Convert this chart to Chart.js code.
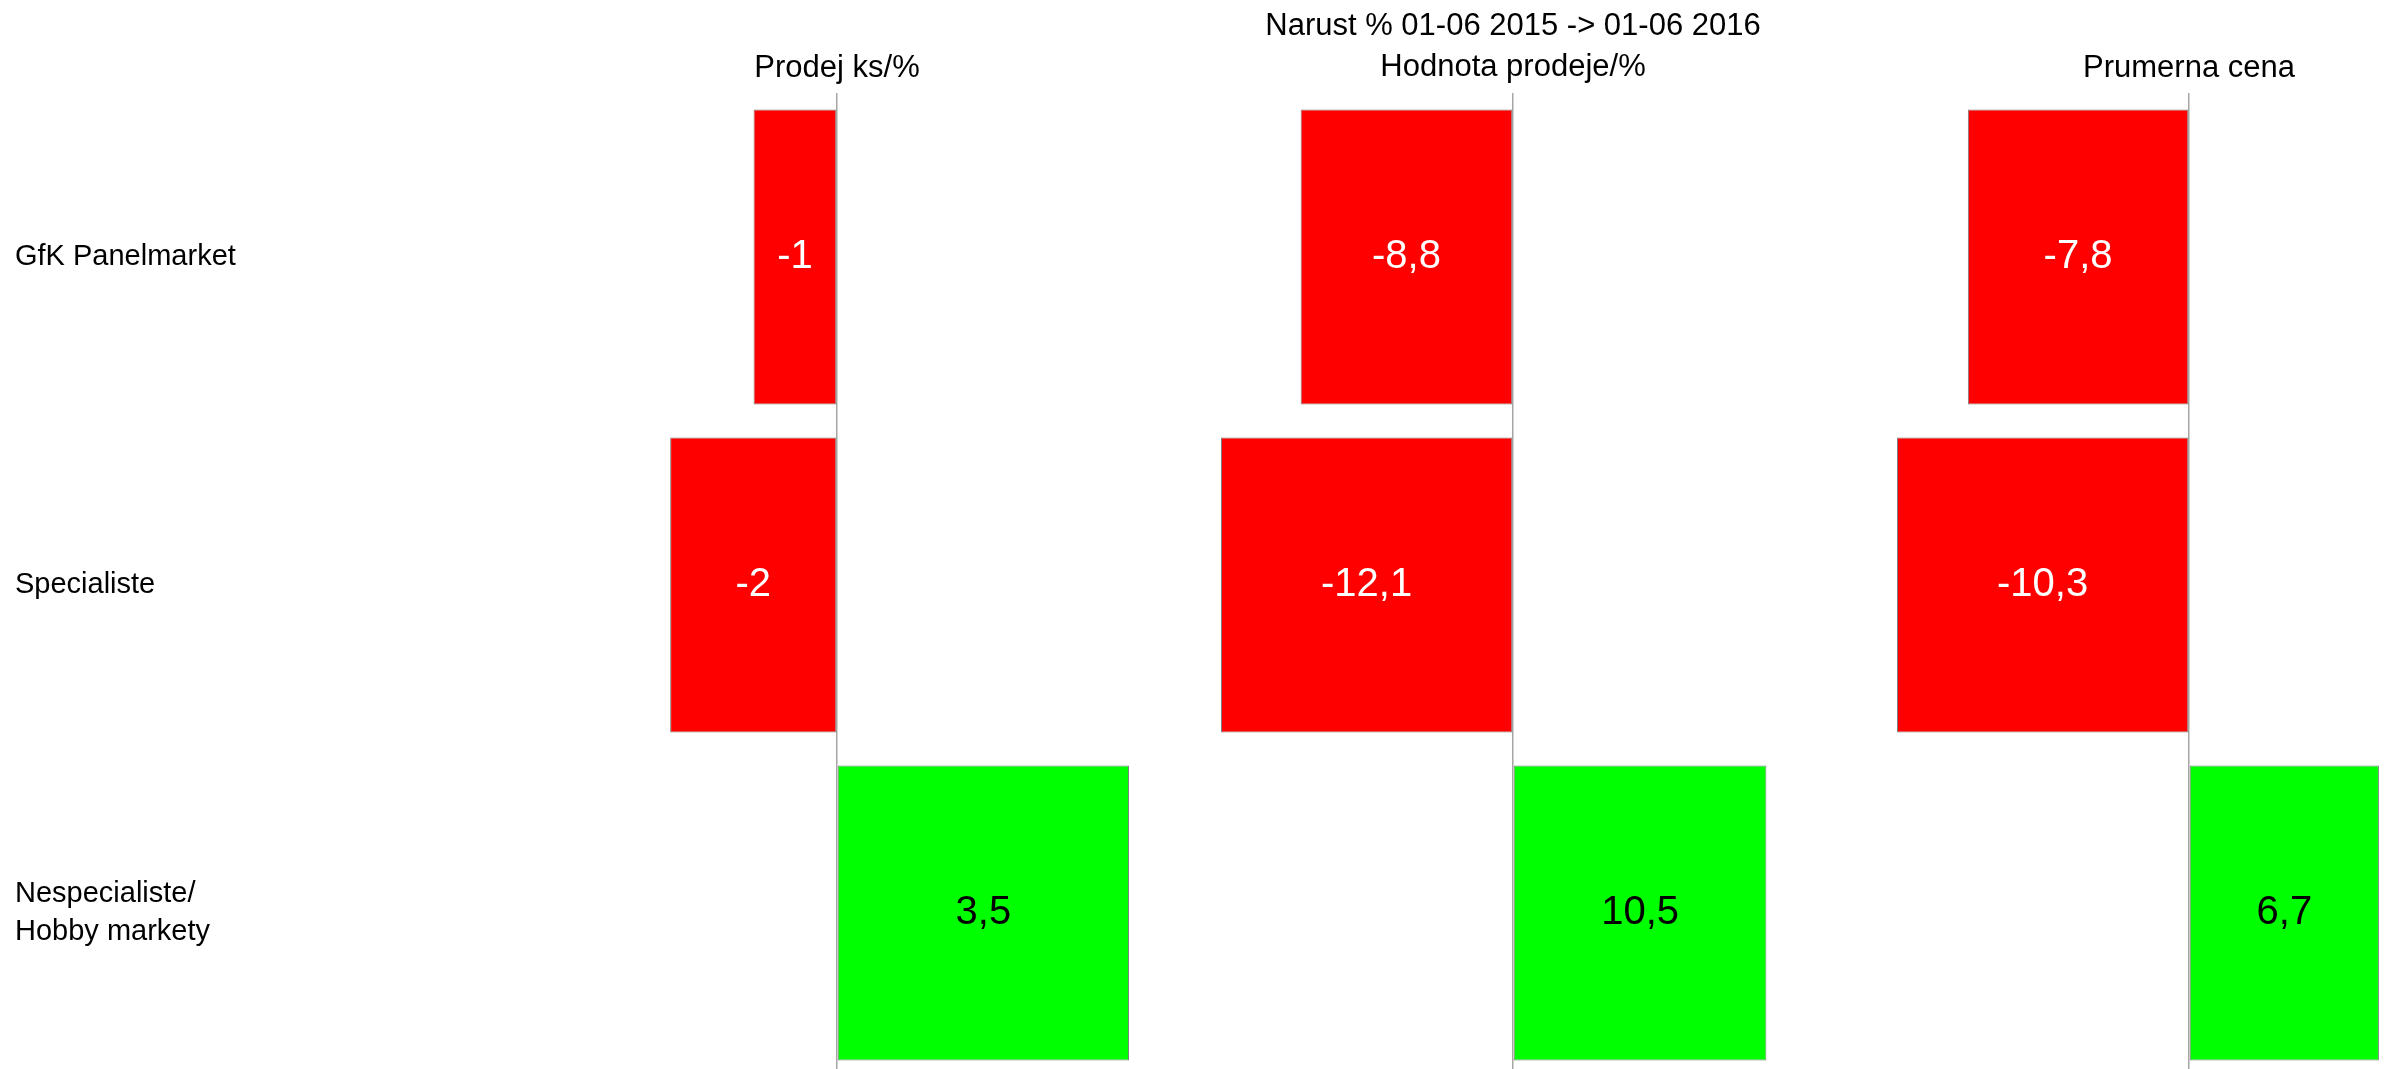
<!DOCTYPE html>
<html lang="cs">
<head>
    <meta charset="UTF-8">
    <title>Narust % 01-06 2015 -> 01-06 2016</title>
    <style>
        html, body { margin: 0; padding: 0; background: #ffffff; overflow: hidden; }
        body { width: 2393px; height: 1069px; position: relative; }
        canvas { position: absolute; top: 0; }
        #chartProdej { left: 0px; }
        #chartHodnota { left: 1221px; }
        #chartCena { left: 1897px; }
    </style>
</head>
<body>
    <canvas id="chartProdej" width="1129" height="1077"></canvas>
    <canvas id="chartHodnota" width="584" height="1077"></canvas>
    <canvas id="chartCena" width="584" height="1077"></canvas>

    <script src="https://cdn.jsdelivr.net/npm/chart.js"></script>
    <script>
        // data
        var categories = ['GfK Panelmarket', 'Specialiste', ['Nespecialiste/', 'Hobby markety']];
        var prodejKs = [-1, -2, 3.5];
        var hodnotaProdeje = [-8.8, -12.1, 10.5];
        var prumernaCena = [-7.8, -10.3, 6.7];
        var mainTitle = 'Narust % 01-06 2015 -> 01-06 2016';
        var panelTitles = ['Prodej ks/%', 'Hodnota prodeje/%', 'Prumerna cena'];

        var FONT = '"Liberation Sans", Arial, sans-serif';

        // values written in the middle of each bar
        var barLabels = {
            id: 'barLabels',
            afterDatasetsDraw: function (chart) {
                var ctx = chart.ctx;
                var values = chart.data.datasets[0].data;
                ctx.save();
                ctx.font = '40px ' + FONT;
                ctx.textAlign = 'center';
                ctx.textBaseline = 'middle';
                chart.getDatasetMeta(0).data.forEach(function (bar, i) {
                    var p = bar.getCenterPoint();
                    ctx.fillStyle = values[i] < 0 ? '#ffffff' : '#000000';
                    ctx.fillText(String(values[i]).replace('.', ','), p.x, p.y);
                });
                ctx.restore();
            }
        };

        function makePanel(id, values, title, subtitle, showCategories) {
            var limit = Math.max.apply(null, values.map(Math.abs));
            var titleFont = { family: FONT, size: 31, weight: 'normal', lineHeight: 1.2 };

            var titleOpts, subtitleOpts;
            if (subtitle) {
                titleOpts = { display: true, text: title, color: '#000', font: titleFont, fullSize: false, padding: { top: 8, bottom: 0 } };
                subtitleOpts = { display: true, text: subtitle, color: '#000', font: titleFont, fullSize: false, padding: { top: 4, bottom: 6.6 } };
            } else {
                titleOpts = { display: true, text: title, color: '#000', font: titleFont, fullSize: false, padding: { top: 50, bottom: 5.8 } };
                subtitleOpts = { display: false };
            }

            return new Chart(document.getElementById(id), {
                type: 'bar',
                data: {
                    labels: categories,
                    datasets: [{
                        data: values,
                        backgroundColor: values.map(function (v) { return v < 0 ? '#ff0000' : '#00ff00'; }),
                        borderColor: '#808080',
                        borderWidth: 1,
                        borderSkipped: false,
                        categoryPercentage: 1,
                        barPercentage: 0.9
                    }]
                },
                options: {
                    indexAxis: 'y',
                    responsive: false,
                    devicePixelRatio: 1,
                    animation: false,
                    layout: { padding: { left: showCategories ? 15 : 0, right: 0, top: 0, bottom: 0 } },
                    plugins: {
                        legend: { display: false },
                        tooltip: { enabled: false },
                        title: titleOpts,
                        subtitle: subtitleOpts
                    },
                    scales: {
                        x: {
                            min: -limit,
                            max: limit,
                            ticks: { display: false },
                            border: { display: false },
                            grid: {
                                drawTicks: false,
                                lineWidth: 1.5,
                                color: function (c) {
                                    return c.tick && c.tick.value === 0 ? '#a8a6a2' : 'rgba(0,0,0,0)';
                                }
                            }
                        },
                        y: {
                            display: showCategories,
                            grid: { display: false },
                            border: { display: false },
                            ticks: {
                                crossAlign: 'far',
                                padding: 0,
                                color: '#000',
                                autoSkip: false,
                                font: { family: FONT, size: 29, lineHeight: 1.3 }
                            },
                            afterFit: function (scale) {
                                if (!showCategories) return;
                                scale.width = 530;
                                // labels sit inside the bands, no extra room needed
                                scale.paddingTop = 0;
                                scale.paddingBottom = 0;
                            }
                        }
                    }
                },
                plugins: [barLabels]
            });
        }

        makePanel('chartProdej', prodejKs, panelTitles[0], null, true);
        makePanel('chartHodnota', hodnotaProdeje, mainTitle, panelTitles[1], false);
        makePanel('chartCena', prumernaCena, panelTitles[2], null, false);
    </script>
</body>
</html>
